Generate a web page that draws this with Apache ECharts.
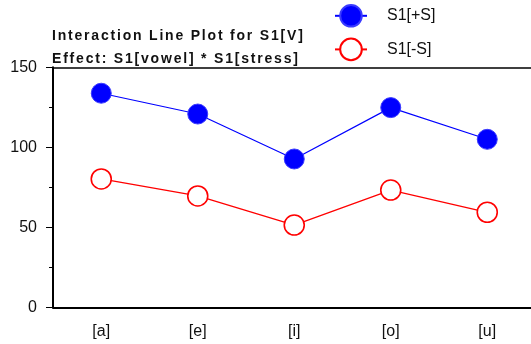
<!DOCTYPE html>
<html>
<head>
<meta charset="utf-8">
<script src="https://cdn.jsdelivr.net/npm/echarts@6/dist/echarts.min.js"></script>
<style>html,body{margin:0;padding:0;background:#fff;overflow:hidden}#c{width:536px;height:344px}</style>
</head>
<body>
<div id="c"></div>
<script>
const categories = ['[a]', '[e]', '[i]', '[o]', '[u]'];
const plusS = [133.8, 120.8, 92.7, 124.8, 105.0];
const minusS = [80.2, 69.6, 51.4, 73.3, 59.4];
const yTicks = [0, 50, 100, 150];
const titleLines = ['Interaction Line Plot for S1[V]', 'Effect: S1[vowel] * S1[stress]'];

// letter-spaced title: each character as its own rich-text token
const spaced = titleLines.map(l => Array.from(l).map(ch => '{c|' + ch + '}').join('')).join('\n');

const FONT = 'Liberation Sans, Arial, sans-serif';
const chart = echarts.init(document.getElementById('c'), null, {renderer: 'canvas'});
chart.setOption({
  animation: false,
  textStyle: {fontFamily: FONT},
  title: {
    text: spaced,
    left: 47, top: 20,
    textStyle: {
      fontSize: 14, fontWeight: 'bold', color: '#111', lineHeight: 22.5, fontFamily: FONT,
      rich: {c: {fontSize: 14, fontWeight: 'bold', color: '#111', lineHeight: 22.5, fontFamily: FONT, padding: [0, 1.8, 0, 0]}}
    }
  },
  legend: {
    orient: 'vertical',
    left: 334, top: 4, padding: 0,
    itemWidth: 32, itemHeight: 27, itemGap: 10,
    textStyle: {fontSize: 16, color: '#111', padding: [0, 0, 0, 15]},
    data: ['S1[+S]', 'S1[-S]']
  },
  grid: {left: 53, top: 67.3, right: 0.5, bottom: 36.7, containLabel: false},
  xAxis: [{
    type: 'category', data: categories, boundaryGap: true,
    axisLine: {lineStyle: {color: '#000', width: 2}},
    axisTick: {alignWithLabel: true, length: 3, lineStyle: {color: '#000', width: 1}},
    axisLabel: {color: '#111', fontSize: 16, margin: 16},
    splitLine: {show: false}
  }, {
    type: 'category', data: categories, position: 'top', boundaryGap: true,
    axisLine: {show: true, lineStyle: {color: '#000', width: 1.5}},
    axisTick: {show: false}, axisLabel: {show: false}, splitLine: {show: false}
  }],
  yAxis: {
    type: 'value', min: 0, max: 150, interval: 50,
    axisLine: {show: true, lineStyle: {color: '#000', width: 2}},
    axisTick: {show: true, length: 7, lineStyle: {color: '#000', width: 1}},
    minorTick: {show: true, splitNumber: 2, length: 4, lineStyle: {color: '#000', width: 1}},
    axisLabel: {color: '#111', fontSize: 16, margin: 16,
      formatter: v => yTicks.includes(v) ? String(v) : ''},
    splitLine: {show: false}
  },
  series: [{
    name: 'S1[+S]', type: 'line', data: plusS,
    symbol: 'circle', symbolSize: 20,
    lineStyle: {color: '#0000ff', width: 1.2},
    itemStyle: {color: '#0000ff', borderColor: '#3a3aff', borderWidth: 1}
  }, {
    name: 'S1[-S]', type: 'line', data: minusS,
    symbol: 'circle', symbolSize: 20,
    lineStyle: {color: '#ff0000', width: 1.3},
    itemStyle: {color: '#ffffff', borderColor: '#ff0000', borderWidth: 1.6}
  }]
});
</script>
</body>
</html>
